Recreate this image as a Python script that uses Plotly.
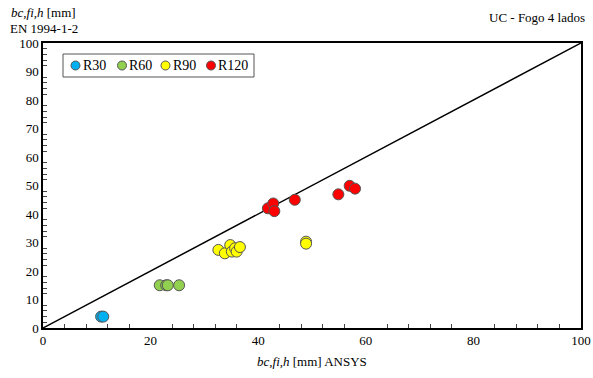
import plotly.graph_objects as go

r30_x = [10.8, 11.2]
r30_y = [4.0, 4.0]
r60_x = [21.7, 22.9, 23.2, 25.3]
r60_y = [15.0, 15.0, 15.0, 15.0]
r90_x = [32.6, 33.8, 34.8, 35.1, 35.7, 36.0, 36.6, 48.9, 48.9]
r90_y = [27.4, 26.2, 29.1, 26.8, 28.0, 26.8, 28.4, 30.3, 29.6]
r120_x = [41.8, 42.8, 43.0, 46.8, 54.9, 57.0, 58.0]
r120_y = [42.0, 43.7, 41.0, 45.0, 46.9, 49.9, 48.9]
line_x = [0, 100]
line_y = [0, 100]
series_names = ["R30", "R60", "R90", "R120"]
series_colors = ["#00B0F0", "#92D050", "#FFFF00", "#FF0000"]

FONT = "Liberation Serif, Times New Roman, serif"

W, H = 593, 378
PL, PR, PT, PB = 43, 581, 43, 328  # plot area in page pixels
ML, MR, MT, MB = PL, W - PR, PT, H - PB

fig = go.Figure()
fig.add_trace(go.Scatter(x=line_x, y=line_y, mode="lines",
                         line=dict(color="black", width=1.5), showlegend=False, hoverinfo="skip"))
all_x = [r30_x, r60_x, r90_x, r120_x]
all_y = [r30_y, r60_y, r90_y, r120_y]
for name, xs, ys, col in zip(series_names, all_x, all_y, series_colors):
    fig.add_trace(go.Scatter(x=xs, y=ys, mode="markers", name=name, showlegend=False,
                             marker=dict(size=11, color=col, line=dict(color="#555555", width=1))))

# compact legend drawn on a pixel-based overlay axis
leg_marker_x = [75.5, 122.0, 165.5, 211.0]
leg_text_x = [80.5, 127.0, 170.5, 216.0]
leg_y = 65.5
for name, col, mx, tx in zip(series_names, series_colors, leg_marker_x, leg_text_x):
    fig.add_trace(go.Scatter(x=[mx], y=[leg_y], xaxis="x2", yaxis="y2", mode="markers",
                             showlegend=False, hoverinfo="skip",
                             marker=dict(size=9, color=col, line=dict(color="#555555", width=1))))
    fig.add_annotation(text=name, x=tx, y=leg_y, xref="x2", yref="y2", showarrow=False,
                       xanchor="left", yanchor="middle", font=dict(family=FONT, size=14))
fig.add_shape(type="rect", xref="x2", yref="y2", x0=63, x1=254, y0=54, y1=77,
              line=dict(color="#555555", width=1), fillcolor="white", layer="below")


def px2paper(px, py):
    return (px - PL) / (PR - PL), (PB - py) / (PB - PT)


fig.update_layout(
    width=W, height=H, autosize=False,
    margin=dict(l=ML, r=MR, t=MT, b=MB, autoexpand=False),
    paper_bgcolor="white", plot_bgcolor="white",
    font=dict(family=FONT, size=13, color="black"),
    showlegend=False,
    xaxis=dict(range=[0, 100], tick0=0, dtick=20, ticks="", showgrid=False, automargin=False,
               showline=True, linecolor="black", linewidth=1.5, mirror=True, zeroline=False,
               minor=dict(dtick=4, ticks="inside", ticklen=4, tickcolor="#444444"),
               tickfont=dict(family=FONT, size=13), ticklabeloverflow="allow"),
    yaxis=dict(range=[0, 100], tick0=0, dtick=10, ticks="", showgrid=False, automargin=False,
               showline=True, linecolor="black", linewidth=1.5, mirror=True, zeroline=False,
               minor=dict(dtick=2, ticks="inside", ticklen=4, tickcolor="#444444"),
               tickfont=dict(family=FONT, size=13)),
    xaxis2=dict(range=[PL, PR], overlaying="x", visible=False, fixedrange=True, automargin=False),
    yaxis2=dict(range=[PB, PT], overlaying="y", visible=False, fixedrange=True, automargin=False),
)

ann = [
    ("<i>bc,fi,h</i> [mm]", 9, 13, "left"),
    ("EN 1994-1-2", 8, 28, "left"),
    ("UC - Fogo 4 lados", 587, 18, "right"),
    ("<i>bc,fi,h</i> [mm] ANSYS", 312, 361, "center"),
]
for text, px, py, anchor in ann:
    ax, ay = px2paper(px, py)
    fig.add_annotation(text=text, x=ax, y=ay, xref="paper", yref="paper", showarrow=False,
                       xanchor=anchor, yanchor="middle", font=dict(family=FONT, size=13))

fig.write_html("out.html", config={"displayModeBar": False},
               post_script="document.body.style.margin='0';document.body.style.overflow='hidden';")
